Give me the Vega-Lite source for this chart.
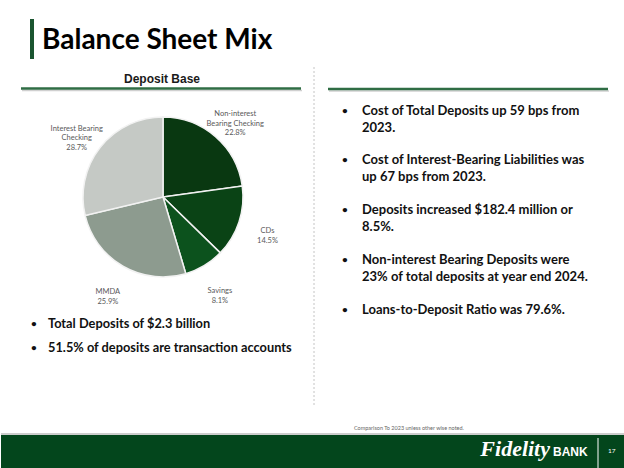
{
  "$schema": "https://vega.github.io/schema/vega-lite/v6.json",
  "padding": 0,
  "background": "white",
  "spacing": 0,
  "config": {"view": {"stroke": null}, "concat": {"spacing": 0}, "font": "Lato"},
  "datasets": {
    "header": [{"title": "Balance Sheet Mix"}],
    "section": [{"label": "Deposit Base"}],
    "slices": [
      {"segment": "Non-interest Bearing Checking", "label": "Non-interest\nBearing Checking\n22.8%", "pct": 22.8, "order": 1},
      {"segment": "CDs", "label": "CDs\n14.5%", "pct": 14.5, "order": 2},
      {"segment": "Savings", "label": "Savings\n8.1%", "pct": 8.1, "order": 3},
      {"segment": "MMDA", "label": "MMDA\n25.9%", "pct": 25.9, "order": 4},
      {"segment": "Interest Bearing Checking", "label": "Interest Bearing\nChecking\n28.7%", "pct": 28.7, "order": 5}
    ],
    "left_bullets": [
      {"n": 1, "text": "Total Deposits of $2.3 billion"},
      {"n": 2, "text": "51.5% of deposits are transaction accounts"}
    ],
    "right_bullets": [
      {"n": 1, "text": "Cost of Total Deposits up 59 bps from\n2023."},
      {"n": 2, "text": "Cost of Interest-Bearing Liabilities was\nup 67 bps from 2023."},
      {"n": 3, "text": "Deposits increased $182.4 million or\n8.5%."},
      {"n": 4, "text": "Non-interest Bearing Deposits were\n23% of total deposits at year end 2024."},
      {"n": 5, "text": "Loans-to-Deposit Ratio was 79.6%."}
    ],
    "footnote": [{"note": "Comparison To 2023 unless other wise noted."}],
    "footer": [{"brand": "Fidelity", "suffix": "BANK", "page": "17"}]
  },
  "vconcat": [
    {
      "width": 624, "height": 62,
      "data": {"name": "header"},
      "layer": [
        {"mark": {"type": "rule", "stroke": "#1a5530", "strokeWidth": 4}, "encoding": {"x": {"value": 31}, "y": {"value": 19}, "y2": {"value": 59}}},
        {"mark": {"type": "text", "align": "left", "baseline": "alphabetic", "font": "Lato", "fontWeight": "bold", "fontSize": 28, "color": "#000000"}, "encoding": {"x": {"value": 41}, "y": {"value": 49}, "text": {"field": "title"}}}
      ]
    },
    {
      "hconcat": [
        {
          "bounds": "flush",
          "spacing": 0,
          "vconcat": [
            {
              "width": 324, "height": 33,
              "data": {"name": "section"},
              "layer": [
                {"mark": {"type": "text", "font": "Liberation Sans", "fontWeight": "bold", "fontSize": 12, "color": "#1a1a1a", "baseline": "middle"}, "encoding": {"x": {"value": 161}, "y": {"value": 17}, "text": {"field": "label"}}},
                {"mark": {"type": "rule", "stroke": "#d0d0d0", "strokeWidth": 1.5}, "encoding": {"x": {"value": 21}, "x2": {"value": 301}, "y": {"value": 28.5}}},
                {"mark": {"type": "rule", "stroke": "#2f6d44", "strokeWidth": 2.5}, "encoding": {"x": {"value": 20}, "x2": {"value": 300}, "y": {"value": 26.5}}},
                {"mark": {"type": "rule", "stroke": "#c4c4c4", "strokeWidth": 1, "strokeDash": [2, 2]}, "encoding": {"x": {"value": 313}, "y": {"value": 5}, "y2": {"value": 33}}}
              ]
            },
            {
              "width": 324, "height": 204,
              "layer": [
                {
                  "data": {"name": "slices"},
                  "encoding": {
                    "theta": {"field": "pct", "type": "quantitative", "stack": true},
                    "order": {"field": "order", "type": "quantitative"}
                  },
                  "layer": [
                    {"mark": {"type": "arc", "outerRadius": 80, "stroke": "#f2f2f2", "strokeWidth": 1.5},
                     "encoding": {"color": {"field": "segment", "type": "nominal", "legend": null,
                       "scale": {"domain": ["Non-interest Bearing Checking", "CDs", "Savings", "MMDA", "Interest Bearing Checking"],
                                 "range": ["#093811", "#0a4315", "#0c521d", "#8d9b8f", "#c5c9c5"]}}}},
                    {"mark": {"type": "text", "radius": 110, "fontSize": 7.5, "font": "Lato", "color": "#595959", "lineBreak": "\n", "lineHeight": 9.5, "align": "center", "baseline": "middle"},
                     "encoding": {"text": {"field": "label"}}}
                  ]
                },
                {
                  "data": {"name": "section"},
                  "mark": {"type": "rule", "stroke": "#c4c4c4", "strokeWidth": 1, "strokeDash": [2, 2]},
                  "encoding": {"x": {"value": 313}}
                }
              ]
            },
            {
              "width": 324, "height": 121,
              "layer": [
                {
                  "data": {"name": "left_bullets"},
                  "encoding": {"y": {"field": "n", "type": "ordinal", "axis": null, "scale": {"type": "point", "padding": 0, "range": [25, 49]}}},
                  "layer": [
                    {"mark": {"type": "text", "align": "left", "baseline": "middle", "font": "Lato", "fontWeight": "bold", "fontSize": 10, "color": "#111111"}, "encoding": {"x": {"value": 30}, "text": {"value": "•"}}},
                    {"mark": {"type": "text", "align": "left", "baseline": "middle", "font": "Lato", "fontWeight": "bold", "fontSize": 12.8, "color": "#111111"}, "encoding": {"x": {"value": 47}, "text": {"field": "text"}}}
                  ]
                },
                {
                  "data": {"name": "section"},
                  "mark": {"type": "rule", "stroke": "#c4c4c4", "strokeWidth": 1, "strokeDash": [2, 2]},
                  "encoding": {"x": {"value": 313}, "y": {"value": 0}, "y2": {"value": 108}}
                }
              ]
            }
          ]
        },
        {
          "width": 300, "height": 358,
          "layer": [
            {
              "data": {"name": "section"},
              "layer": [
                {"mark": {"type": "rule", "stroke": "#d0d0d0", "strokeWidth": 1.5}, "encoding": {"x": {"value": 4}, "x2": {"value": 284}, "y": {"value": 29}}},
                {"mark": {"type": "rule", "stroke": "#2f6d44", "strokeWidth": 2.5}, "encoding": {"x": {"value": 3}, "x2": {"value": 283}, "y": {"value": 27}}}
              ]
            },
            {
              "data": {"name": "right_bullets"},
              "encoding": {"y": {"field": "n", "type": "ordinal", "axis": null, "scale": {"type": "point", "padding": 0, "range": [40.5, 239.5]}}},
              "layer": [
                {"mark": {"type": "text", "align": "left", "baseline": "line-top", "lineHeight": 17, "font": "Lato", "fontWeight": "bold", "fontSize": 10, "color": "#111111"}, "encoding": {"x": {"value": 17}, "text": {"value": "•"}}},
                {"mark": {"type": "text", "align": "left", "baseline": "line-top", "lineHeight": 17, "lineBreak": "\n", "font": "Lato", "fontWeight": "bold", "fontSize": 13, "color": "#111111"}, "encoding": {"x": {"value": 37}, "text": {"field": "text"}}}
              ]
            }
          ]
        }
      ]
    },
    {
      "width": 624, "height": 15,
      "data": {"name": "footnote"},
      "layer": [
        {"mark": {"type": "text", "align": "left", "baseline": "middle", "font": "Lato", "fontSize": 5.5, "color": "#666666"}, "encoding": {"x": {"value": 353}, "y": {"value": 8}, "text": {"field": "note"}}},
        {"mark": {"type": "rule", "stroke": "#bdbdbd", "strokeWidth": 1.5}, "encoding": {"x": {"value": 0}, "x2": {"value": 624}, "y": {"value": 14}}}
      ]
    },
    {
      "width": 624, "height": 33,
      "view": {"fill": "#03461c", "stroke": null},
      "data": {"name": "footer"},
      "layer": [
        {"mark": {"type": "text", "align": "right", "baseline": "alphabetic", "font": "Liberation Serif", "fontStyle": "italic", "fontWeight": "bold", "fontSize": 22, "color": "#ffffff"}, "encoding": {"x": {"value": 549}, "y": {"value": 21}, "text": {"field": "brand"}}},
        {"mark": {"type": "text", "align": "left", "baseline": "alphabetic", "font": "Liberation Sans", "fontWeight": "bold", "fontSize": 12, "color": "#ffffff"}, "encoding": {"x": {"value": 552}, "y": {"value": 21}, "text": {"field": "suffix"}}},
        {"mark": {"type": "rule", "stroke": "#ffffff", "strokeWidth": 1}, "encoding": {"x": {"value": 597}, "y": {"value": 3}, "y2": {"value": 33}}},
        {"mark": {"type": "text", "align": "left", "baseline": "middle", "font": "Lato", "fontSize": 6.5, "color": "#ffffff"}, "encoding": {"x": {"value": 607}, "y": {"value": 16}, "text": {"field": "page"}}}
      ]
    }
  ]
}
